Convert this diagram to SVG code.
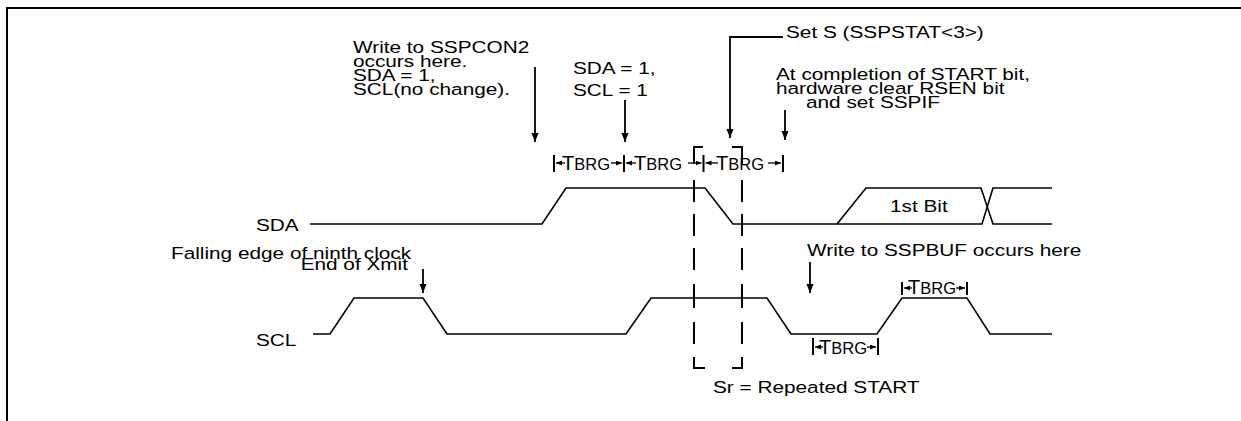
<svg xmlns="http://www.w3.org/2000/svg" width="1241" height="421" viewBox="0 0 1241 421">
<defs>
<marker id="ah" markerUnits="userSpaceOnUse" markerWidth="10" markerHeight="8" refX="9" refY="3.5" orient="auto"><path d="M0,0 L9,3.5 L0,7 z" fill="#000"/></marker>
<marker id="sh" markerUnits="userSpaceOnUse" markerWidth="7" markerHeight="6" refX="6" refY="2.5" orient="auto"><path d="M0,0 L6,2.5 L0,5 z" fill="#000"/></marker>
<style>
text{font-family:"Liberation Sans",Arial,sans-serif;font-size:16.5px;fill:#000}
.w{transform:scale(1.26,1)}
.tb{font-size:20px}
.sm{font-size:16.5px}
.wave{fill:none;stroke:#000;stroke-width:1.6;stroke-linejoin:miter}
.conn{fill:none;stroke:#000;stroke-width:1.8}
.tick{stroke:#000;stroke-width:2}
.tarr{stroke:#000;stroke-width:1.3;marker-end:url(#sh)}
.dash{fill:none;stroke:#000;stroke-width:2}
</style>
</defs>
<rect width="1241" height="421" fill="#fff"/>
<path d="M7,421 V8 H1241" fill="none" stroke="#000" stroke-width="2"/>

<g id="signals">
<g id="sda">
<text class="w" x="203.17" y="231">SDA</text>
<path class="wave" d="M310,224 H542 L566,188 H705 L733,224 H982 L993,188 H1052"/>
<path class="wave" d="M837,224 L866,188 H981 L993,224 H1052"/>
<text class="w" x="706.35" y="212">1st Bit</text>
</g>
<g id="scl">
<text class="w" x="203.17" y="346">SCL</text>
<path class="wave" d="M313,334 H330 L354,298 H423 L447,334 H626 L651,298 H767 L791,334 H877 L902,298 H967 L990,334 H1052"/>
</g>
</g>

<g id="repeated-start">
<path class="dash" d="M703,147 H694 V164 M694,180 V202 M694,214 V236 M694,248 V270 M694,284 V308 M694,322 V344 M694,357 V368 H705"/>
<path class="dash" d="M732,147 H742 V164 M742,180 V202 M742,214 V236 M742,248 V270 M742,284 V308 M742,322 V344 M742,357 V368 H732"/>
<text class="w" x="565.87" y="393">Sr = Repeated START</text>
</g>

<g id="note-sspcon2">
<text class="w" x="280.16" y="53">Write to SSPCON2</text>
<text class="w" x="280.16" y="67">occurs here.</text>
<text class="w" x="280.16" y="81">SDA = 1,</text>
<text class="w" x="280.16" y="95">SCL(no change).</text>
</g>
<g id="note-sda-scl">
<text class="w" x="454.76" y="74">SDA = 1,</text>
<text class="w" x="454.76" y="96">SCL = 1</text>
</g>
<g id="note-set-s">
<text class="w" x="623.81" y="38">Set S (SSPSTAT&lt;3&gt;)</text>
</g>
<g id="note-rsen">
<text class="w" x="615.87" y="80">At completion of START bit,</text>
<text class="w" x="615.87" y="94">hardware clear RSEN bit</text>
<text class="w" x="639.68" y="108">and set SSPIF</text>
</g>
<g id="note-ninth">
<text class="w" x="135.71" y="259">Falling edge of ninth clock</text>
<text class="w" x="323.81" y="270" text-anchor="end">End of Xmit</text>
</g>
<g id="note-sspbuf">
<text class="w" x="640.48" y="256">Write to SSPBUF occurs here</text>
</g>

<g id="connectors">
<line class="conn" x1="535" y1="67" x2="535" y2="142" marker-end="url(#ah)"/>
<line class="conn" x1="625" y1="100" x2="625" y2="142" marker-end="url(#ah)"/>
<path class="conn" d="M783,37 H730 V138" marker-end="url(#ah)"/>
<line class="conn" x1="785" y1="110" x2="785" y2="140" marker-end="url(#ah)"/>
<line class="conn" x1="423" y1="269" x2="423" y2="293" marker-end="url(#ah)"/>
<line class="conn" x1="810" y1="262" x2="810" y2="293" marker-end="url(#ah)"/>
</g>

<g id="tbrg-top">
<line class="tick" x1="554" y1="155" x2="554" y2="172"/>
<line class="tick" x1="624" y1="155" x2="624" y2="172"/>
<line class="tick" x1="703.5" y1="155" x2="703.5" y2="172"/>
<line class="tick" x1="783" y1="155" x2="783" y2="172"/>
<line class="tarr" x1="565" y1="163" x2="556" y2="163"/>
<text class="tb" x="562" y="170">T<tspan class="sm">BRG</tspan></text>
<line class="tarr" x1="611" y1="163" x2="622" y2="163"/>
<line class="tarr" x1="636" y1="163" x2="626" y2="163"/>
<text class="tb" x="634" y="170">T<tspan class="sm">BRG</tspan></text>
<line class="tarr" x1="688" y1="163" x2="701.5" y2="163"/>
<line class="tarr" x1="718" y1="163" x2="705.5" y2="163"/>
<text class="tb" x="716" y="170">T<tspan class="sm">BRG</tspan></text>
<line class="tarr" x1="768" y1="163" x2="781" y2="163"/>
</g>
<g id="tbrg-scl-low">
<line class="tick" x1="813" y1="338" x2="813" y2="355"/>
<line class="tick" x1="878" y1="338" x2="878" y2="355"/>
<line class="tarr" x1="823" y1="347" x2="815" y2="347"/>
<text class="tb" x="819" y="354">T<tspan class="sm">BRG</tspan></text>
<line class="tarr" x1="867" y1="347" x2="876" y2="347"/>
</g>
<g id="tbrg-scl-high">
<line class="tick" x1="902" y1="282" x2="902" y2="295"/>
<line class="tick" x1="967" y1="282" x2="967" y2="295"/>
<line class="tarr" x1="912" y1="288" x2="904" y2="288"/>
<text class="tb" x="908" y="294">T<tspan class="sm">BRG</tspan></text>
<line class="tarr" x1="956" y1="288" x2="965" y2="288"/>
</g>
</svg>
